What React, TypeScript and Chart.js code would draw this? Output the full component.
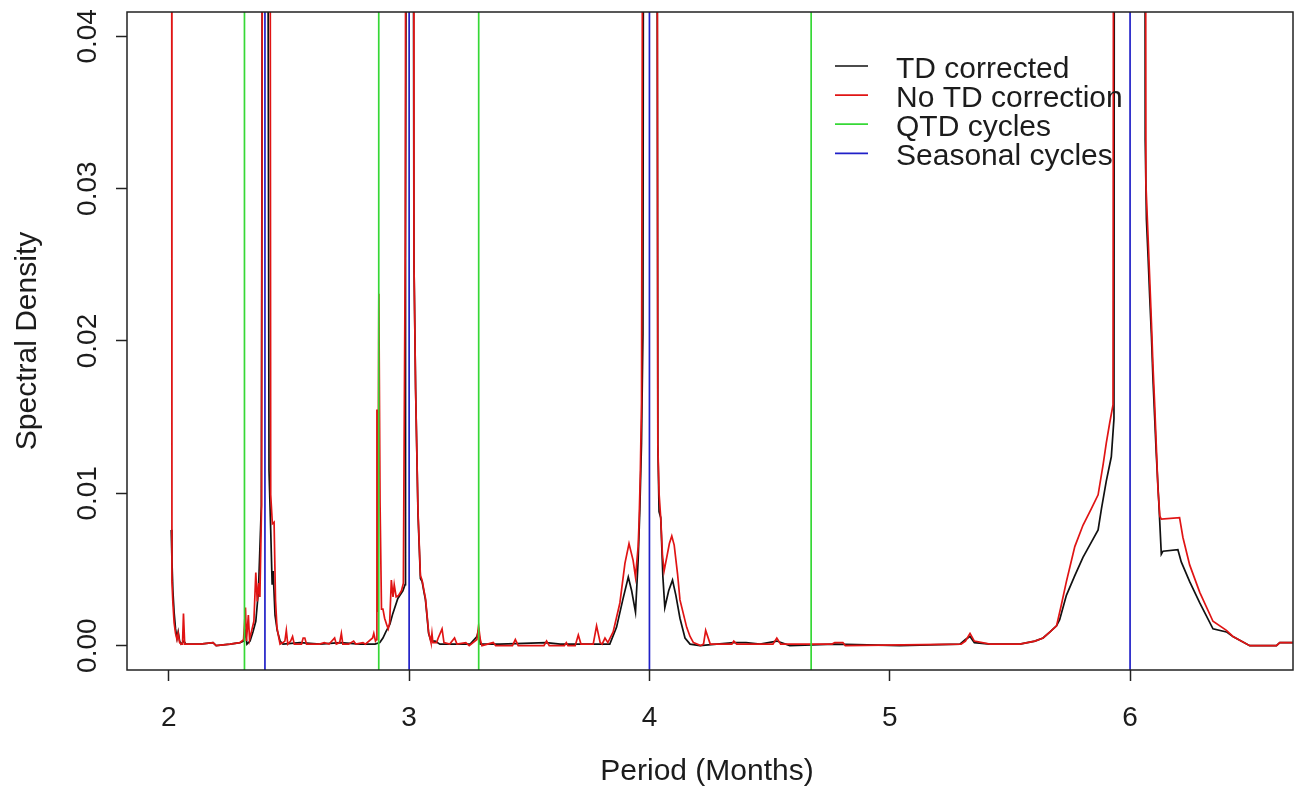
import { useEffect, useRef } from "react";
import { Chart, registerables } from "chart.js";

Chart.register(...registerables);

// ---- Data ----
// TD corrected spectrum (black)
const tdPeriod = [
  2.010, 2.013, 2.017, 2.022, 2.028, 2.034, 2.039, 2.045, 2.051, 2.063, 2.071, 2.130, 2.184, 2.197, 2.255, 2.296,
  2.311, 2.319, 2.325, 2.338, 2.350, 2.362, 2.373, 2.385, 2.394, 2.402, 2.410, 2.417, 2.424, 2.430, 2.434, 2.442,
  2.451, 2.463, 2.475, 2.546, 2.629, 2.713, 2.796, 2.858, 2.878, 2.891, 2.903, 2.920, 2.932, 2.953, 2.974, 2.983,
  2.985, 2.993, 3.004, 3.014, 3.020, 3.027, 3.037, 3.047, 3.054, 3.062, 3.068, 3.074, 3.081, 3.091, 3.108, 3.128,
  3.169, 3.254, 3.282, 3.289, 3.296, 3.378, 3.571, 3.629, 3.795, 3.835, 3.863, 3.889, 3.912, 3.926, 3.942, 3.953,
  3.960, 3.967, 3.973, 3.978, 4.002, 4.028, 4.035, 4.040, 4.047, 4.056, 4.064, 4.080, 4.096, 4.110, 4.127, 4.148,
  4.169, 4.210, 4.351, 4.402, 4.460, 4.530, 4.584, 4.771, 5.042, 5.292, 5.315, 5.334, 5.352, 5.417, 5.457, 5.541,
  5.604, 5.638, 5.667, 5.694, 5.707, 5.735, 5.770, 5.804, 5.839, 5.867, 5.881, 5.901, 5.922, 5.933, 5.936, 6.000,
  6.060, 6.063, 6.068, 6.075, 6.082, 6.089, 6.095, 6.102, 6.109, 6.119, 6.130, 6.137, 6.199, 6.213, 6.248, 6.290,
  6.345, 6.401, 6.428, 6.498, 6.609, 6.623, 6.680,
];
const tdDensity = [
  0.0076, 0.0056, 0.0036, 0.0022, 0.0011, 0.0005, 0.0009, 0.0003, 0.0001, 0.0003, 0.0001, 0.0001, 0.0002, 0.0000, 0.0001, 0.0002,
  0.0003, 0.0009, 0.0001, 0.0003, 0.0009, 0.0016, 0.0036, 0.0092, 0.09, 0.15, 0.07, 0.0115, 0.0076, 0.0040, 0.0049, 0.0020,
  0.0010, 0.0003, 0.0001, 0.0002, 0.0001, 0.0002, 0.0001, 0.0001, 0.0002, 0.0005, 0.0009, 0.0014, 0.0021, 0.0031, 0.0036, 0.0040,
  0.0268, 0.09, 0.15, 0.09, 0.0254, 0.0168, 0.0086, 0.0044, 0.0042, 0.0035, 0.0030, 0.0020, 0.0008, 0.0003, 0.0003, 0.0001,
  0.0001, 0.0001, 0.0006, 0.0010, 0.0001, 0.0001, 0.0002, 0.0001, 0.0001, 0.0001, 0.0012, 0.0030, 0.0045, 0.0036, 0.0022, 0.0056,
  0.0089, 0.0133, 0.0205, 0.09, 0.15, 0.09, 0.0132, 0.0088, 0.0084, 0.0045, 0.0025, 0.0036, 0.0043, 0.0033, 0.0018, 0.0005,
  0.0001, 0.0000, 0.0002, 0.0002, 0.0001, 0.0003, 0.0000, 0.0001, 0.0000, 0.0001, 0.0004, 0.0006, 0.0002, 0.0001, 0.0001, 0.0001,
  0.0003, 0.0005, 0.0009, 0.0013, 0.0017, 0.0033, 0.0046, 0.0058, 0.0068, 0.0076, 0.0090, 0.0108, 0.0124, 0.0149, 0.09, 0.20,
  0.09, 0.0332, 0.0280, 0.0255, 0.0228, 0.0203, 0.0176, 0.0151, 0.0126, 0.0096, 0.0060, 0.0062, 0.0063, 0.0055, 0.0042, 0.0028,
  0.0011, 0.0009, 0.0006, 0.0000, 0.0000, 0.0002, 0.0002,
];

// No TD correction spectrum (red)
const rawPeriod = [
  2.010, 2.013, 2.017, 2.022, 2.028, 2.034, 2.039, 2.045, 2.051, 2.057, 2.061, 2.066, 2.130, 2.184, 2.197, 2.255,
  2.296, 2.311, 2.319, 2.323, 2.331, 2.336, 2.345, 2.354, 2.362, 2.368, 2.374, 2.379, 2.386, 2.393, 2.402, 2.419,
  2.424, 2.431, 2.438, 2.444, 2.450, 2.458, 2.463, 2.475, 2.483, 2.489, 2.495, 2.507, 2.515, 2.522, 2.552, 2.559,
  2.566, 2.573, 2.627, 2.647, 2.667, 2.690, 2.697, 2.711, 2.718, 2.724, 2.748, 2.769, 2.778, 2.808, 2.818, 2.848,
  2.853, 2.860, 2.864, 2.866, 2.869, 2.874, 2.879, 2.885, 2.891, 2.898, 2.906, 2.913, 2.919, 2.926, 2.933, 2.938,
  2.946, 2.956, 2.968, 2.976, 2.984, 2.989, 3.004, 3.018, 3.020, 3.027, 3.037, 3.047, 3.054, 3.062, 3.068, 3.074,
  3.081, 3.088, 3.091, 3.095, 3.099, 3.114, 3.121, 3.137, 3.145, 3.169, 3.189, 3.199, 3.236, 3.250, 3.282, 3.289,
  3.296, 3.303, 3.350, 3.360, 3.430, 3.442, 3.454, 3.561, 3.572, 3.583, 3.646, 3.654, 3.661, 3.691, 3.704, 3.715,
  3.766, 3.780, 3.795, 3.803, 3.815, 3.827, 3.849, 3.877, 3.898, 3.915, 3.932, 3.942, 3.953, 3.957, 3.962, 3.967,
  3.973, 3.980, 4.002, 4.028, 4.035, 4.040, 4.047, 4.054, 4.061, 4.072, 4.083, 4.093, 4.103, 4.117, 4.127, 4.141,
  4.155, 4.169, 4.183, 4.213, 4.225, 4.234, 4.253, 4.343, 4.351, 4.363, 4.514, 4.530, 4.546, 4.760, 4.771, 4.805,
  4.815, 5.297, 5.315, 5.334, 5.352, 5.417, 5.541, 5.604, 5.638, 5.667, 5.694, 5.713, 5.735, 5.770, 5.804, 5.839,
  5.867, 5.888, 5.901, 5.915, 5.929, 5.934, 6.000, 6.061, 6.066, 6.075, 6.082, 6.089, 6.095, 6.102, 6.109, 6.116,
  6.124, 6.130, 6.206, 6.220, 6.248, 6.290, 6.345, 6.401, 6.428, 6.498, 6.609, 6.623, 6.680,
];
const rawDensity = [
  0.15, 0.0042, 0.0028, 0.0015, 0.0008, 0.0004, 0.0008, 0.0002, 0.0001, 0.0001, 0.0021, 0.0001, 0.0001, 0.0002, 0.0000, 0.0001,
  0.0002, 0.0004, 0.0025, 0.0003, 0.0020, 0.0004, 0.0010, 0.0016, 0.0048, 0.0029, 0.0041, 0.0032, 0.0092, 0.10, 0.15, 0.10,
  0.0099, 0.0080, 0.0081, 0.0030, 0.0012, 0.0005, 0.0001, 0.0002, 0.0003, 0.0010, 0.0001, 0.0003, 0.0006, 0.0001, 0.0001, 0.0005,
  0.0005, 0.0001, 0.0001, 0.0002, 0.0001, 0.0005, 0.0001, 0.0002, 0.0008, 0.0001, 0.0001, 0.0003, 0.0001, 0.0002, 0.0001, 0.0005,
  0.0008, 0.0003, 0.0004, 0.0155, 0.0022, 0.0231, 0.0094, 0.0024, 0.0024, 0.0018, 0.0014, 0.0011, 0.0015, 0.0043, 0.0032, 0.0040,
  0.0032, 0.0033, 0.0036, 0.0041, 0.0268, 0.10, 0.20, 0.10, 0.0254, 0.0168, 0.0088, 0.0046, 0.0043, 0.0036, 0.0031, 0.0021,
  0.0009, 0.0004, 0.0002, 0.0008, 0.0002, 0.0002, 0.0005, 0.0011, 0.0002, 0.0001, 0.0005, 0.0001, 0.0002, 0.0000, 0.0004, 0.0013,
  0.0004, 0.0000, 0.0002, 0.0000, 0.0000, 0.0004, 0.0000, 0.0000, 0.0003, 0.0000, 0.0000, 0.0002, 0.0000, 0.0000, 0.0007, 0.0001,
  0.0001, 0.0013, 0.0002, 0.0001, 0.0005, 0.0002, 0.0009, 0.0028, 0.0054, 0.0067, 0.0056, 0.0045, 0.0065, 0.0082, 0.0113, 0.0160,
  0.06, 0.12, 0.20, 0.12, 0.0132, 0.0100, 0.0084, 0.0060, 0.0049, 0.0058, 0.0067, 0.0072, 0.0066, 0.0047, 0.0030, 0.0021,
  0.0012, 0.0006, 0.0002, 0.0000, 0.0001, 0.0010, 0.0001, 0.0001, 0.0003, 0.0001, 0.0001, 0.0005, 0.0001, 0.0001, 0.0002, 0.0002,
  0.0000, 0.0001, 0.0003, 0.0008, 0.0003, 0.0001, 0.0001, 0.0003, 0.0005, 0.0009, 0.0013, 0.0026, 0.0042, 0.0065, 0.0079, 0.0090,
  0.0099, 0.0119, 0.0133, 0.0146, 0.0158, 0.10, 0.30, 0.10, 0.0303, 0.0268, 0.0240, 0.0212, 0.0185, 0.0160, 0.0132, 0.0103,
  0.0085, 0.0083, 0.0084, 0.0071, 0.0053, 0.0035, 0.0016, 0.0010, 0.0006, 0.0000, 0.0000, 0.0002, 0.0002,
];

// Reference cycles (vertical lines)
const qtdCycles = [2.3148, 2.8736, 3.2895, 4.6729];
const seasonalCycles = [2.4, 3, 4, 6];

// Axes
const xTickValues = [2, 3, 4, 5, 6];
const yTickValues = [0, 0.01, 0.02, 0.03, 0.04];
const xRange = [1.826, 6.678];
const yRange = [-0.0016, 0.0416];

const legendLabels = ["TD corrected", "No TD correction", "QTD cycles", "Seasonal cycles"];
const xTitle = "Period (Months)";
const yTitle = "Spectral Density";

const COL_TD = "#111111";
const COL_RAW = "#e01414";
const COL_QTD = "#36d836";
const COL_SEAS = "#2020c8";
const TEXT = "#1c1c1c";
const FONT = '"Liberation Sans", Arial, sans-serif';

export default function App() {
  const ref = useRef<HTMLCanvasElement | null>(null);

  useEffect(() => {
    const canvas = ref.current;
    if (!canvas) return;

    const toPoints = (px: number[], py: number[]) => px.map((p, i) => ({ x: p, y: py[i] }));
    const vline = (p: number, color: string, order: number) => ({
      data: [
        { x: p, y: yRange[0] - 1 },
        { x: p, y: yRange[1] + 1 },
      ],
      borderColor: color,
      borderWidth: 1.7,
      pointRadius: 0,
      tension: 0,
      order,
    });

    const frame = {
      id: "rFrame",
      afterDraw(chart: any) {
        const { ctx, chartArea: a, scales } = chart;
        const xs = scales.x;
        const ys = scales.y;
        ctx.save();
        ctx.strokeStyle = "#222";
        ctx.lineWidth = 1.5;
        ctx.strokeRect(a.left, a.top, a.right - a.left, a.bottom - a.top);

        ctx.fillStyle = TEXT;
        ctx.font = `28px ${FONT}`;
        ctx.textAlign = "center";
        ctx.textBaseline = "alphabetic";
        xTickValues.forEach((v) => ctx.fillText(String(v), xs.getPixelForValue(v), 726));
        yTickValues.forEach((v) => {
          ctx.save();
          ctx.translate(96, ys.getPixelForValue(v));
          ctx.rotate(-Math.PI / 2);
          ctx.fillText(v.toFixed(2), 0, 0);
          ctx.restore();
        });

        ctx.font = `30px ${FONT}`;
        ctx.fillText(xTitle, 707, 780);
        ctx.save();
        ctx.translate(36, (a.top + a.bottom) / 2);
        ctx.rotate(-Math.PI / 2);
        ctx.fillText(yTitle, 0, 0);
        ctx.restore();

        const cols = [COL_TD, COL_RAW, COL_QTD, COL_SEAS];
        ctx.textAlign = "left";
        legendLabels.forEach((label, i) => {
          const y = 66 + i * 29.1;
          ctx.strokeStyle = cols[i];
          ctx.lineWidth = 1.7;
          ctx.beginPath();
          ctx.moveTo(835, y);
          ctx.lineTo(868, y);
          ctx.stroke();
          ctx.fillText(label, 896, y + 12);
        });
        ctx.restore();
      },
    };

    const chart = new Chart(canvas, {
      type: "line",
      data: {
        datasets: [
          ...seasonalCycles.map((p) => vline(p, COL_SEAS, 0)),
          ...qtdCycles.map((p) => vline(p, COL_QTD, 1)),
          {
            data: toPoints(rawPeriod, rawDensity),
            borderColor: COL_RAW,
            borderWidth: 1.7,
            pointRadius: 0,
            tension: 0,
            order: 2,
          },
          {
            data: toPoints(tdPeriod, tdDensity),
            borderColor: COL_TD,
            borderWidth: 1.7,
            pointRadius: 0,
            tension: 0,
            order: 3,
          },
        ] as any,
      },
      options: {
        animation: false,
        responsive: false,
        devicePixelRatio: 1,
        parsing: false as any,
        normalized: true,
        layout: { padding: { top: 12, right: 11, left: 0, bottom: 0 } },
        plugins: { legend: { display: false }, tooltip: { enabled: false } },
        events: [],
        scales: {
          x: {
            type: "linear",
            min: xRange[0],
            max: xRange[1],
            afterBuildTicks: (s: any) => {
              s.ticks = xTickValues.map((v) => ({ value: v }));
            },
            afterFit: (s: any) => {
              s.height = 124;
            },
            ticks: { display: false },
            grid: { drawOnChartArea: false, drawTicks: true, tickLength: 11, tickColor: "#222", tickWidth: 1.5 },
            border: { display: false },
          },
          y: {
            type: "linear",
            min: yRange[0],
            max: yRange[1],
            afterBuildTicks: (s: any) => {
              s.ticks = yTickValues.map((v) => ({ value: v }));
            },
            afterFit: (s: any) => {
              s.width = 127;
            },
            ticks: { display: false },
            grid: { drawOnChartArea: false, drawTicks: true, tickLength: 11, tickColor: "#222", tickWidth: 1.5 },
            border: { display: false },
          },
        },
      } as any,
      plugins: [frame],
    });

    return () => chart.destroy();
  }, []);

  return (
    <div style={{ position: "absolute", left: 0, top: 0, width: 1304, height: 794, background: "#fff" }}>
      <canvas ref={ref} width={1304} height={794} style={{ display: "block" }} />
    </div>
  );
}
